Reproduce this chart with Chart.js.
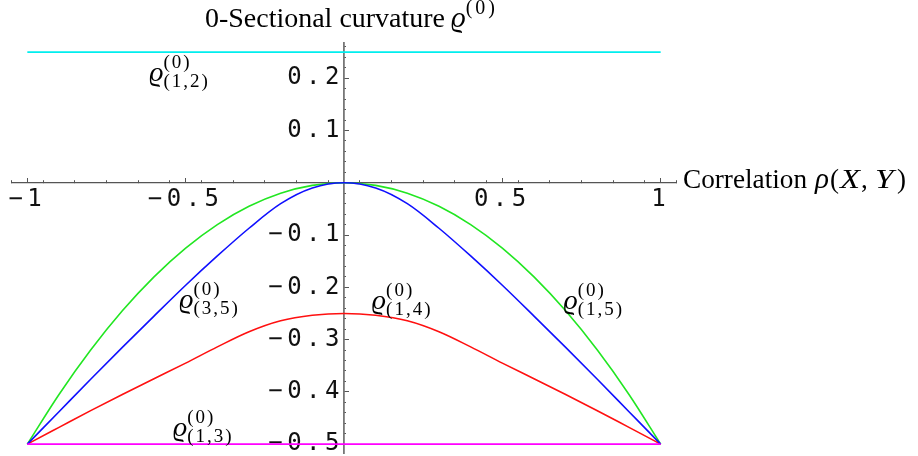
<!DOCTYPE html>
<html>
<head>
<meta charset="utf-8">
<script src="https://cdn.jsdelivr.net/npm/chart.js@4.4.1/dist/chart.umd.min.js"></script>
<style>
  html, body { margin: 0; padding: 0; background: #ffffff; }
  #wrap { width: 918px; height: 456px; }
</style>
</head>
<body>
<div id="wrap"><canvas id="c" width="918" height="456"></canvas></div>
<script>
// ---- data ----
const correlation = [-1, -0.9, -0.8, -0.7, -0.6, -0.5, -0.4, -0.3, -0.2, -0.1, 0,
                     0.1, 0.2, 0.3, 0.4, 0.5, 0.6, 0.7, 0.8, 0.9, 1];
const rho12 = [0.25, 0.25, 0.25, 0.25, 0.25, 0.25, 0.25, 0.25, 0.25, 0.25, 0.25,
               0.25, 0.25, 0.25, 0.25, 0.25, 0.25, 0.25, 0.25, 0.25, 0.25];
const rho13 = [-0.5, -0.5, -0.5, -0.5, -0.5, -0.5, -0.5, -0.5, -0.5, -0.5, -0.5,
               -0.5, -0.5, -0.5, -0.5, -0.5, -0.5, -0.5, -0.5, -0.5, -0.5];
const rho14 = [-0.5, -0.468, -0.436, -0.405, -0.375, -0.345, -0.314, -0.285, -0.264, -0.2535, -0.25,
               -0.2535, -0.264, -0.285, -0.314, -0.345, -0.375, -0.405, -0.436, -0.468, -0.5];
const rho15 = [-0.5, -0.405, -0.32, -0.245, -0.18, -0.125, -0.08, -0.045, -0.02, -0.005, 0,
               -0.005, -0.02, -0.045, -0.08, -0.125, -0.18, -0.245, -0.32, -0.405, -0.5];
const rho35 = [-0.5, -0.438, -0.376, -0.315, -0.255, -0.196, -0.14, -0.087, -0.040, -0.010, 0,
               -0.010, -0.040, -0.087, -0.14, -0.196, -0.255, -0.315, -0.376, -0.438, -0.5];
const xTickLabels = [-1, -0.5, 0.5, 1];
const yTickLabels = [0.2, 0.1, -0.1, -0.2, -0.3, -0.4, -0.5];
const seriesNames = ['(1,2)', '(1,3)', '(1,4)', '(1,5)', '(3,5)'];

// ---- chart ----
const pts = arr => arr.map((v, i) => ({ x: correlation[i], y: v }));
const X_MIN = -1.05, X_MAX = 1.05, Y_MIN = -0.517, Y_MAX = 0.268;
const SERIF = '"Liberation Serif", "DejaVu Serif", serif';
const MONO = '"DejaVu Sans Mono", monospace';
const AXIS_COLOR = '#555555';

function fmt(v) {
  const s = String(Math.round(v * 100) / 100);
  return s.replace('-', '\u2212');
}

// label anchors (data coordinates) for the curve annotations
const annot = [
  { name: seriesNames[0], x: -0.615, y: 0.195 },
  { name: seriesNames[4], x: -0.52, y: -0.240 },
  { name: seriesNames[1], x: -0.54, y: -0.485 },
  { name: seriesNames[2], x: 0.088, y: -0.242 },
  { name: seriesNames[3], x: 0.693, y: -0.242 }
];

function drawRho(ctx, px, py, sup, sub, big) {
  ctx.letterSpacing = '0px';
  ctx.font = 'italic ' + (big ? 29 : 28) + 'px ' + SERIF;
  ctx.fillText('\u03F1', px, py);
  const w = ctx.measureText('\u03F1').width;
  ctx.font = (big ? 20 : 19) + 'px ' + SERIF;
  ctx.letterSpacing = big ? '3px' : '2px';
  ctx.fillText(sup, px + w, py - 13);
  if (sub) { ctx.letterSpacing = '2px'; ctx.fillText(sub, px + w, py + 6); }
  ctx.letterSpacing = '0px';
}

function fitText(ctx, text, font, x, y, width) {
  ctx.font = font;
  const w = ctx.measureText(text).width;
  ctx.save();
  ctx.translate(x, y);
  ctx.scale(width / w, 1);
  ctx.fillText(text, 0, 0);
  ctx.restore();
  return x + width;
}

const textPlugin = {
  id: 'texts',
  beforeDraw(chart) { chart.ctx.letterSpacing = '4.5px'; },
  beforeDatasetsDraw(chart) { chart.ctx.letterSpacing = '0px'; },
  afterDraw(chart) {
    const ctx = chart.ctx;
    const xs = chart.scales.x, ys = chart.scales.y;
    ctx.save();
    ctx.letterSpacing = '0px';
    ctx.fillStyle = '#000';
    ctx.textBaseline = 'alphabetic';
    ctx.textAlign = 'left';
    // title (y axis label)
    const endT = fitText(ctx, '0-Sectional curvature', '27px ' + SERIF, 205, 27, 240);
    drawRho(ctx, endT + 6, 27, '(0)', null, true);
    // x axis label
    fitText(ctx, 'Correlation', '27px ' + SERIF, 683, 188, 124);
    const math = [
      { t: '\u03C1', f: 'italic 29px ' + SERIF, x: 815 },
      { t: '(', f: '27px ' + SERIF, x: 830 },
      { t: 'X', f: 'italic 28px ' + SERIF, x: 840, w: 20 },
      { t: ',', f: '27px ' + SERIF, x: 861 },
      { t: 'Y', f: 'italic 28px ' + SERIF, x: 875, w: 18.5 },
      { t: ')', f: '27px ' + SERIF, x: 897 }
    ];
    for (const p of math) {
      if (p.w) fitText(ctx, p.t, p.f, p.x, 188, p.w);
      else { ctx.font = p.f; ctx.fillText(p.t, p.x, 188); }
    }
    // curve annotations
    for (const a of annot) {
      drawRho(ctx, xs.getPixelForValue(a.x), ys.getPixelForValue(a.y), '(0)', a.name, false);
    }
    ctx.restore();
  }
};

const lineDs = (label, data, color) => ({
  label, data: pts(data), borderColor: color, borderWidth: 1.6,
  pointRadius: 0, fill: false, cubicInterpolationMode: 'monotone',
  xAxisID: 'x', yAxisID: 'y'
});

const noPad = s => { s.paddingLeft = 0; s.paddingRight = 0; s.paddingTop = 0; s.paddingBottom = 0; };

new Chart(document.getElementById('c'), {
  type: 'line',
  data: {
    datasets: [
      lineDs('rho13', rho13, '#ff00ff'),
      lineDs('rho12', rho12, '#00eeee'),
      lineDs('rho35', rho35, '#1010ff'),
      lineDs('rho14', rho14, '#ff1010'),
      lineDs('rho15', rho15, '#22e622')
    ]
  },
  options: {
    responsive: false,
    animation: false,
    devicePixelRatio: 1,
    layout: { padding: { left: 11.5, right: 241.5, top: 42.7, bottom: 3 } },
    plugins: { legend: { display: false }, tooltip: { enabled: false }, title: { display: false } },
    scales: {
      x: {
        type: 'linear', min: X_MIN, max: X_MAX, position: { y: 0 },
        afterFit: noPad,
        border: { display: true, color: AXIS_COLOR, width: 1.2 },
        grid: { drawOnChartArea: false, drawTicks: true, tickLength: -3, color: AXIS_COLOR, lineWidth: 1 },
        ticks: { display: false, stepSize: 0.1, includeBounds: false }
      },
      xMajor: {
        type: 'linear', axis: 'x', min: X_MIN, max: X_MAX, position: { y: 0 },
        afterFit: noPad,
        border: { display: false },
        grid: { drawOnChartArea: false, drawTicks: true, tickLength: -5, color: AXIS_COLOR, lineWidth: 1 },
        afterBuildTicks: s => { s.ticks = xTickLabels.map(v => ({ value: v })); },
        ticks: {
          display: true, autoSkip: false, maxRotation: 0, padding: 8,
          color: '#111', font: { family: MONO, size: 24 },
          callback: v => fmt(v)
        }
      },
      y: {
        type: 'linear', min: Y_MIN, max: Y_MAX, position: { x: 0 },
        afterFit: noPad,
        border: { display: true, color: '#777777', width: 1.8 },
        grid: { drawOnChartArea: false, drawTicks: true, tickLength: -3, color: AXIS_COLOR, lineWidth: 1 },
        ticks: { display: false, stepSize: 0.02, includeBounds: false }
      },
      yMajor: {
        type: 'linear', axis: 'y', min: Y_MIN, max: Y_MAX, position: { x: 0 },
        afterFit: noPad,
        border: { display: false },
        grid: { drawOnChartArea: false, drawTicks: true, tickLength: -5, color: AXIS_COLOR, lineWidth: 1 },
        afterBuildTicks: s => { s.ticks = yTickLabels.map(v => ({ value: v })); },
        ticks: {
          display: true, autoSkip: false, padding: 10,
          color: '#111', font: { family: MONO, size: 24 },
          callback: v => fmt(v)
        }
      }
    }
  },
  plugins: [textPlugin]
});
</script>
</body>
</html>
